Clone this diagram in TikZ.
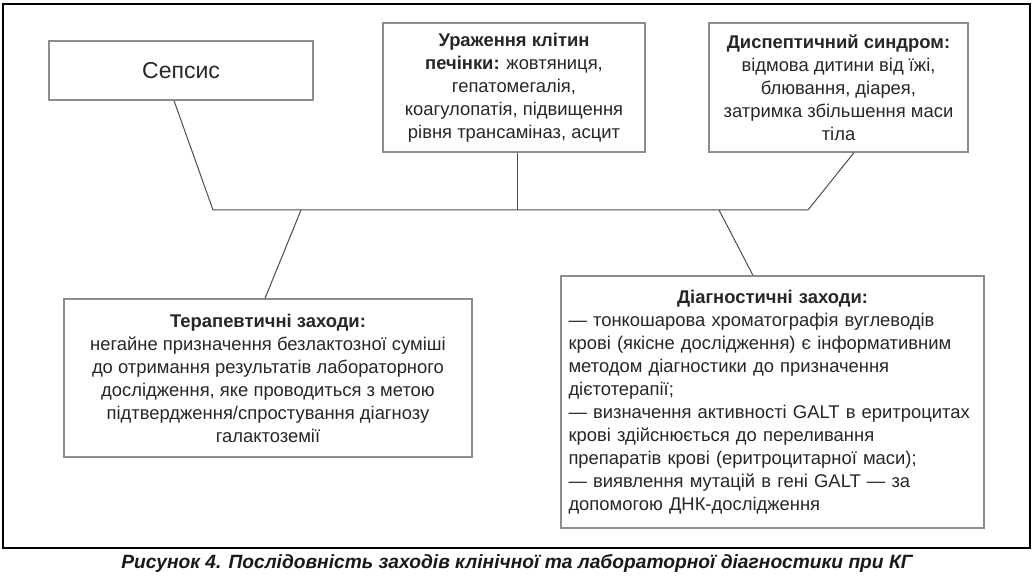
\documentclass[tikz,border=0pt]{standalone}
\usepackage{fontspec}
\setmainfont{Liberation Sans}
\usepackage{tikz}

\begin{document}
\begin{tikzpicture}[
    x=0.5pt, y=-0.5pt,
    box/.style={rectangle, draw=black!45, line width=0.6pt, inner sep=0pt, align=center, text=black!85, font=\fontsize{9.2}{11.5}\selectfont},
    link/.style={draw=black!70, line width=0.5pt}
]

\useasboundingbox (0,0) rectangle (1033,576);
\draw[line width=0.7pt] (3,4) rectangle (1030,548);

\node[box, minimum width=132pt, minimum height=29.5pt, font=\fontsize{11.5}{13}\selectfont] (sepsis) at (181,70.5) {Сепсис};
\node[box, minimum width=131pt, minimum height=64.5pt] (liver) at (514,87.5)
    {\textbf{Ураження клітин}\\ \textbf{печінки:} жовтяниця,\\ гепатомегалія,\\ коагулопатія, підвищення\\ рівня трансаміназ, асцит};
\node[box, minimum width=129.5pt, minimum height=64.5pt] (dysp) at (838.5,87.5)
    {\textbf{Диспептичний синдром:}\\ відмова дитини від їжі,\\ блювання, діарея,\\ затримка збільшення маси\\ тіла};

\node[box, minimum width=204pt, minimum height=79pt] (therapy) at (268,378)
    {\textbf{Терапевтичні заходи:}\\ негайне призначення безлактозної суміші\\ до отримання результатів лабораторного\\ дослідження, яке проводиться з метою\\ підтвердження/спростування діагнозу\\ галактоземії};
\node[box, minimum width=211.5pt, minimum height=126pt, text width=204pt, align=left] (diag) at (772.5,402)
    {\makebox[\linewidth]{\textbf{Діагностичні заходи:}}\\
     — тонкошарова хроматографія вуглеводів\\ крові (якісне дослідження) є інформативним\\ методом діагностики до призначення\\ дієтотерапії;\\
     — визначення активності GALT в еритроцитах\\ крові здійснюється до переливання\\ препаратів крові (еритроцитарної маси);\\
     — виявлення мутацій в гені GALT — за\\ допомогою ДНК-дослідження};

\coordinate (hubW) at (213,210);
\coordinate (hubE) at (808,210);
\coordinate (hubL) at (517,210);
\coordinate (hubT) at (301,210);
\coordinate (hubD) at (719,210);

\draw[link] ([xshift=-3.5pt]sepsis.south) -- (hubW) -- (hubE) -- ([xshift=7.75pt]dysp.south);
\draw[link] ([xshift=1.5pt]liver.south) -- (hubL);
\draw[link] (hubT) -- ([xshift=-1.5pt]therapy.north);
\draw[link] (hubD) -- ([xshift=-9.75pt]diag.north);

\node[font=\bfseries\itshape\fontsize{9.6}{11}\selectfont, text=black!90] (caption) at (517,563)
    {Рисунок 4. Послідовність заходів клінічної та лабораторної діагностики при КГ};

\end{tikzpicture}
\end{document}
